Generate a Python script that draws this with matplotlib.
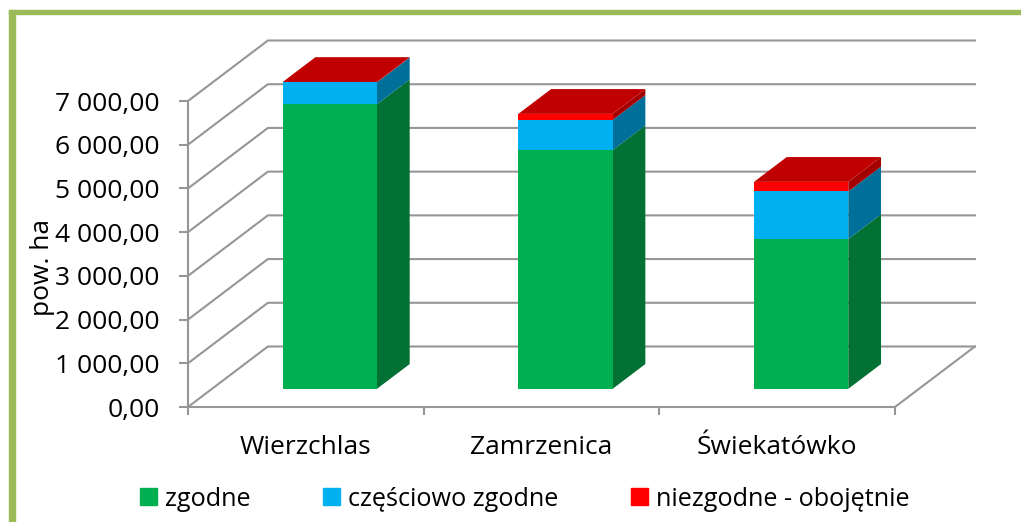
#!/usr/bin/env python3
"""Stacked pseudo-3D columns, surface area by compliance class."""
import matplotlib
matplotlib.use("Agg")
import matplotlib.pyplot as plt
from matplotlib.patches import Rectangle

plt.rcParams['font.family'] = ['Open Sans', 'DejaVu Sans']

# Data
categories = ["Wierzchlas", "Zamrzenica", "Świekatówko"]
series_names = ["zgodne", "częściowo zgodne", "niezgodne - obojętnie"]
zgodne = [6510, 5460, 3425]
czesciowo = [500, 690, 1090]
niezgodne = [10, 140, 220]
y_ticks = [0, 1000, 2000, 3000, 4000, 5000, 6000, 7000]

front_colors = ["#00B050", "#00B0F0", "#FF0000"]
side_colors = ["#027133", "#006F9A", "#A50000"]
top_color = "#C00000"
line_color = "#969696"

# Shear of the depth axis, in data units for one full depth
depth_x = 0.339
depth_y = 1384
bar_width = 0.4
z_front = 0.3
z_back = 0.71


def project(x, y, z):
    return x + z * depth_x, y + z * depth_y


def face(ax, corners, color, zorder):
    pts = [project(*c) for c in corners]
    ax.fill([p[0] for p in pts], [p[1] for p in pts], color=color, lw=0,
            zorder=zorder, clip_on=False)


fig = plt.figure(figsize=(10.21, 5.22), dpi=100)
ax = fig.add_axes([188 / 1021, 115 / 522, 707 / 1021, 306 / 522])
ax.patch.set_visible(False)
ax.set_xlim(0, 3)
ax.set_ylim(0, 7000)

# Border of the picture
fig.patches.append(Rectangle((9 / 1021, 0), 6 / 1021, 1 - 10 / 522, color="#9BBB59",
                             transform=fig.transFigure))
fig.patches.append(Rectangle((9 / 1021, 1 - 14 / 522), 1012 / 1021, 4 / 522, color="#9BBB59",
                             transform=fig.transFigure))

# Walls
for v in y_ticks:
    xs, ys = zip(project(0, v, 0), project(0, v, 1), project(3, v, 1))
    ax.plot(xs, ys, color=line_color, lw=1.5, zorder=1, clip_on=False)
xs, ys = zip(project(3, 0, 1), project(3, 0, 0))
ax.plot(xs, ys, color=line_color, lw=1.5, zorder=1, clip_on=False)

# Columns
for i in range(len(categories)):
    x0 = i + 0.5 - bar_width / 2
    x1 = x0 + bar_width
    base = 0
    for vals, front, side in zip([zgodne, czesciowo, niezgodne], front_colors, side_colors):
        top = base + vals[i]
        face(ax, [(x1, base, z_front), (x1, base, z_back), (x1, top, z_back), (x1, top, z_front)], side, 3)
        face(ax, [(x0, base, z_front), (x1, base, z_front), (x1, top, z_front), (x0, top, z_front)], front, 4)
        base = top
    face(ax, [(x0, base, z_front), (x1, base, z_front), (x1, base, z_back), (x0, base, z_back)], top_color, 5)

# Axes
for name in ["top", "right"]:
    ax.spines[name].set_visible(False)
for name in ["left", "bottom"]:
    ax.spines[name].set_color(line_color)
    ax.spines[name].set_linewidth(1.5)
ax.set_yticks(y_ticks)
ax.set_yticklabels([f"{v:,.2f}".replace(",", " ").replace(".", ",") for v in y_ticks], fontsize=19, color="black")
ax.set_xticks([0, 1, 2, 3])
ax.set_xticklabels([])
ax.set_xticks([0.5, 1.5, 2.5], minor=True)
ax.set_xticklabels(categories, minor=True, fontsize=19, color="black")
ax.tick_params(axis="y", which="major", color=line_color, width=1.5, length=6.5, pad=14)
ax.tick_params(axis="x", which="major", color=line_color, width=1.5, length=6)
ax.tick_params(axis="x", which="minor", length=0, pad=20.5)
ax.set_ylabel("pow. ha", fontsize=19, color="black")
ax.yaxis.set_label_coords(-133 / 707, 140 / 306)

# Legend
handles = [Rectangle((0, 0), 1, 1, color=c) for c in front_colors]
fig.legend(handles, series_names, ncol=3, frameon=False, fontsize=18.2,
           loc="center left", bbox_to_anchor=(140 / 1021, 23 / 522),
           handlelength=0.67, handleheight=0.67, handletextpad=0.31, columnspacing=2.88,
           borderpad=0, borderaxespad=0)

fig.savefig("out.png", dpi=100)
